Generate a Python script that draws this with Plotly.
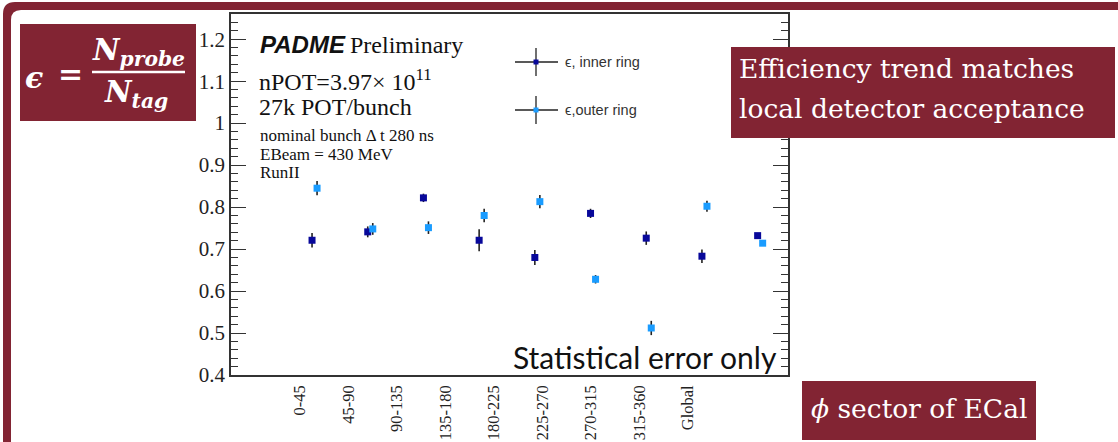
import plotly.graph_objects as go

# ---------------- data ----------------
categories = ["0-45", "45-90", "90-135", "135-180", "180-225",
              "225-270", "270-315", "315-360", "Global"]
eff_inner = [0.721, 0.741, 0.822, 0.721, 0.680, 0.785, 0.726, 0.683, 0.732]
err_inner = [0.017, 0.013, 0.010, 0.026, 0.018, 0.011, 0.016, 0.016, 0.003]
eff_outer = [0.845, 0.748, 0.751, 0.780, 0.813, 0.628, 0.512, 0.802, 0.714]
err_outer = [0.017, 0.014, 0.015, 0.016, 0.016, 0.010, 0.017, 0.013, 0.003]
series_names = ["\u03f5, inner ring", "\u03f5,outer ring"]
y_ticks = [0.4, 0.5, 0.6, 0.7, 0.8, 0.9, 1.0, 1.1, 1.2]

# ---------------- layout helpers ----------------
W, H = 1118, 442
MAROON = "#822433"
INNER_C = "#08089a"
OUTER_C = "#1a9cff"
AXC = "#333333"


def px(x):
    return x / W


def py(y):
    return 1 - y / H


idx = list(range(len(categories)))
off = 0.045
x_inner = [i - off for i in idx]
x_outer = [i + off for i in idx]
# label positions (labels are spaced differently from the points in the source)
label_pos = [(300 - 314.6) / 55.7 + i * 48.5 / 55.7 for i in idx]

fig = go.Figure()
fig.add_trace(go.Scatter(
    x=x_inner, y=eff_inner, mode="markers", name=series_names[0],
    marker=dict(symbol="square", size=7, color=INNER_C),
    error_y=dict(type="data", array=err_inner, color="#222222", thickness=1.6, width=0),
    showlegend=False))
fig.add_trace(go.Scatter(
    x=x_outer, y=eff_outer, mode="markers", name=series_names[1],
    marker=dict(symbol="square", size=7, color=OUTER_C),
    error_y=dict(type="data", array=err_outer, color="#222222", thickness=1.6, width=0),
    showlegend=False))

shapes = []
annotations = []

# slide frame (top and left maroon band with rounded corner)
path = (f"M {px(3)},{py(442)} L {px(3)},{py(14)} Q {px(3)},{py(2)} {px(15)},{py(2)} "
        f"L {px(1118)},{py(2)} L {px(1118)},{py(10)} L {px(21)},{py(10)} "
        f"Q {px(11)},{py(10)} {px(11)},{py(20)} L {px(11)},{py(442)} Z")
shapes.append(dict(type="path", xref="paper", yref="paper", path=path,
                   fillcolor=MAROON, line=dict(width=0), layer="above"))

# maroon boxes
for (x0, y0, x1, y1) in [(20, 24, 196, 121), (731, 47, 1115, 138), (802, 381, 1036, 440)]:
    shapes.append(dict(type="rect", xref="paper", yref="paper",
                       x0=px(x0), x1=px(x1), y0=py(y1), y1=py(y0),
                       fillcolor=MAROON, line=dict(width=0), layer="above"))

# legend drawn by hand
for k, (yy, col) in enumerate([(62, INNER_C), (110, OUTER_C)]):
    shapes.append(dict(type="line", xref="paper", yref="paper",
                       x0=px(515), x1=px(558), y0=py(yy), y1=py(yy),
                       line=dict(color="#222222", width=1.3)))
    shapes.append(dict(type="line", xref="paper", yref="paper",
                       x0=px(536), x1=px(536), y0=py(yy - 14), y1=py(yy + 14),
                       line=dict(color="#222222", width=1.3)))
    shapes.append(dict(type="rect", xref="paper", yref="paper",
                       x0=px(533.5), x1=px(538.5), y0=py(yy + 2.5), y1=py(yy - 2.5),
                       fillcolor=col, line=dict(width=0)))
    annotations.append(dict(xref="paper", yref="paper", x=px(563), y=py(yy),
                            xanchor="left", yanchor="middle", showarrow=False,
                            text=series_names[k],
                            font=dict(family="Liberation Sans, DejaVu Sans", size=14.5,
                                      color="#333333")))

# fraction bar in formula box
shapes.append(dict(type="line", xref="paper", yref="paper",
                   x0=px(92), x1=px(185), y0=py(72), y1=py(72),
                   line=dict(color="white", width=2.5), layer="above"))


def ann(x, y, text, size, family="Liberation Serif", color="black",
        xanchor="left", yanchor="middle"):
    annotations.append(dict(xref="paper", yref="paper", x=px(x), y=py(y),
                            xanchor=xanchor, yanchor=yanchor, showarrow=False,
                            text=text, font=dict(family=family, size=size, color=color)))


# ROOT-style labels inside the plot
ann(258, 45, "<b><i>PADME</i></b>", 24, family="Liberation Sans", color="#111111")
ann(348, 45, "Preliminary", 24, color="#111111")
ann(257, 80, "nPOT=3.97\u00d7 10<sup>11</sup>", 24, color="#111111")
ann(257, 107, "27k POT/bunch", 24, color="#111111")
ann(258, 135, "nominal bunch \u0394 t 280 ns", 17, color="#111111")
ann(258, 154, "EBeam = 430 MeV", 17, color="#111111")
ann(258, 173, "RunII", 17, color="#111111")
ann(511, 357, "Statistical error only", 30, family="Lato", color="#111111")

# slide boxes text
ann(737, 68, "Efficiency trend matches", 26.5, family="DejaVu Serif", color="white")
ann(737, 108, "local detector acceptance", 26.5, family="DejaVu Serif", color="white")
ann(809, 408, "<i>\u03d5</i> sector of ECal", 26.5, family="DejaVu Serif", color="white")

# formula
ann(34, 77, "<b><i>\u03f5</i></b>", 30, family="DejaVu Serif", color="white", xanchor="center")
ann(70, 74, "<b>=</b>", 30, family="DejaVu Serif", color="white", xanchor="center")
ann(138, 52, "<b><i>N<sub>probe</sub></i></b>", 29, family="DejaVu Serif", color="white",
    xanchor="center")
ann(136, 94, "<b><i>N<sub>tag</sub></i></b>", 29, family="DejaVu Serif", color="white",
    xanchor="center")

fig.update_layout(
    width=W, height=H,
    margin=dict(l=0, r=0, t=0, b=0),
    paper_bgcolor="white", plot_bgcolor="white",
    showlegend=False,
    shapes=shapes, annotations=annotations,
    xaxis=dict(domain=[px(231), px(788)], range=[-1.5, 8.5],
               showgrid=False, zeroline=False, automargin=False,
               showline=True, linecolor=AXC, linewidth=1.5, mirror=True,
               tickmode="array", tickvals=label_pos, ticktext=categories,
               tickangle=-90, ticks="", ticklabelstandoff=2,
               tickfont=dict(family="Liberation Serif", size=16.5, color="#222222")),
    yaxis=dict(domain=[py(375), py(14)], range=[0.4, 1.26],
               showgrid=False, zeroline=False, automargin=False,
               showline=True, linecolor=AXC, linewidth=1.5, mirror="allticks",
               tickmode="array", tickvals=y_ticks,
               ticktext=[f"{v:g}" for v in y_ticks],
               ticks="inside", ticklen=15, tickwidth=1.3, tickcolor=AXC,
               minor=dict(ticks="inside", ticklen=7.5, dtick=0.02, tickwidth=1.1,
                          tickcolor=AXC, showgrid=False),
               tickfont=dict(family="Liberation Serif", size=21, color="#222222")),
)

fig.write_html("out.html", config={"displayModeBar": False},
               post_script="document.body.style.margin='0';document.body.style.overflow='hidden';")
